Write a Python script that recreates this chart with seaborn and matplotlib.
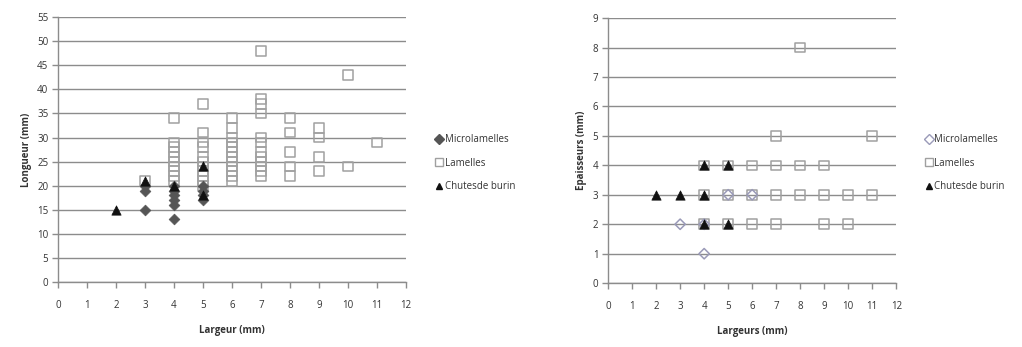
import pandas as pd
import seaborn as sns
import matplotlib.pyplot as plt

# Left chart: longueur vs largeur
micro_lx = [3, 3, 3, 4, 4, 4, 4, 4, 4, 5, 5, 5, 5]
micro_ly = [20, 19, 15, 20, 19, 18, 17, 16, 13, 20, 19, 18, 17]
lam_lx = [3,
          4, 4, 4, 4, 4, 4, 4, 4, 4, 4,
          5, 5, 5, 5, 5, 5, 5, 5, 5, 5, 5,
          6, 6, 6, 6, 6, 6, 6, 6, 6, 6, 6, 6,
          7, 7, 7, 7, 7, 7, 7, 7, 7, 7, 7, 7,
          8, 8, 8, 8, 8,
          9, 9, 9, 9,
          10, 10,
          11]
lam_ly = [21,
          34, 29, 28, 27, 26, 25, 24, 23, 22, 21,
          37, 31, 29, 28, 26, 25, 24, 23, 22, 21, 20,
          34, 32, 30, 29, 28, 27, 26, 25, 24, 23, 22, 21,
          48, 38, 37, 35, 30, 29, 27, 26, 25, 24, 23, 22,
          34, 31, 27, 24, 22,
          32, 30, 26, 23,
          43, 24,
          29]
chute_lx = [2, 3, 4, 5, 5]
chute_ly = [15, 21, 20, 24, 18]

# Right chart: epaisseur vs largeur
micro_rx = [3, 4, 4, 5, 6]
micro_ry = [2, 1, 2, 3, 3]
lam_rx = [4, 4, 4, 5, 5, 5, 6, 6, 6, 7, 7, 7, 7, 8, 8, 8, 9, 9, 9, 10, 10, 11, 11]
lam_ry = [2, 3, 4, 2, 3, 4, 2, 3, 4, 2, 3, 4, 5, 3, 4, 8, 2, 3, 4, 2, 3, 3, 5]
chute_rx = [2, 3, 4, 4, 4, 5, 5]
chute_ry = [3, 3, 2, 3, 4, 2, 4]

series = ["Microlamelles", "Lamelles", "Chutes de burin"]
labels = ["Microlamelles", "Lamelles", "Chutesde burin"]

sns.set_theme(style="white")
plt.rcParams["font.family"] = ["Open Sans", "DejaVu Sans"]

fig = plt.figure(figsize=(10.22, 3.47), dpi=100)
ax1 = fig.add_axes([0.0568, 0.187, 0.3405, 0.764])
ax2 = fig.add_axes([0.595, 0.184, 0.282, 0.764])

grey = "#a6a6a6"
text_c = "#333333"


def draw(ax, xs, ys, micro_style, ymax, ystep, ylabel, xlabel, leg_x):
    # Lamelles: open squares
    sns.scatterplot(x=xs[1], y=ys[1], ax=ax, marker="s", s=48,
                    facecolor="none", edgecolor="#a0a0a0", linewidth=1.1, zorder=3)
    sns.scatterplot(x=xs[0], y=ys[0], ax=ax, zorder=4, **micro_style)
    sns.scatterplot(x=xs[2], y=ys[2], ax=ax, marker="^", s=45,
                    color="#111111", edgecolor="#111111", linewidth=0.5, zorder=5)
    ax.set_xlim(0, 12)
    ax.set_ylim(0, ymax)
    ax.set_xticks(range(0, 13))
    ax.set_yticks(range(0, ymax + 1, ystep))
    ax.yaxis.grid(True, color="#8c8c8c", linewidth=1.0)
    ax.xaxis.grid(False)
    for side in ["top", "right"]:
        ax.spines[side].set_visible(False)
    for side in ["left", "bottom"]:
        ax.spines[side].set_color("#8c8c8c")
        ax.spines[side].set_linewidth(1.0)
    ax.tick_params(axis="both", which="both", length=4, width=1, color="#8c8c8c",
                   labelsize=7, labelcolor=text_c, direction="out")
    ax.tick_params(axis="x", bottom=True, pad=9)
    ax.tick_params(axis="y", left=True, pad=3)
    ax.set_xlabel(xlabel, fontsize=7, fontweight="bold", color=text_c, labelpad=10)
    ax.set_ylabel(ylabel, fontsize=7, fontweight="bold", color=text_c, labelpad=4)

    handles = [
        plt.Line2D([], [], linestyle="none", marker=micro_style["marker"], markersize=5,
                   markerfacecolor=micro_style["facecolor"],
                   markeredgecolor=micro_style["edgecolor"]),
        plt.Line2D([], [], linestyle="none", marker="s", markersize=6,
                   markerfacecolor="none", markeredgecolor="#a0a0a0"),
        plt.Line2D([], [], linestyle="none", marker="^", markersize=5,
                   markerfacecolor="#111111", markeredgecolor="#111111"),
    ]
    leg = fig.legend(handles, labels, loc="center left", bbox_to_anchor=(leg_x, 0.53),
                     frameon=False, fontsize=7, handletextpad=0.1, handlelength=1.0,
                     labelspacing=1.3, borderaxespad=0)
    for t in leg.get_texts():
        t.set_color(text_c)


draw(ax1, [micro_lx, lam_lx, chute_lx], [micro_ly, lam_ly, chute_ly],
     dict(marker="D", s=30, facecolor="#555555", edgecolor="#555555", linewidth=0.5),
     55, 5, "Longueur (mm)", "Largeur (mm)", 0.421)
draw(ax2, [micro_rx, lam_rx, chute_rx], [micro_ry, lam_ry, chute_ry],
     dict(marker="D", s=28, facecolor="none", edgecolor="#9a9ab8", linewidth=1.1),
     9, 1, "Epaisseurs (mm)", "Largeurs (mm)", 0.9)

fig.savefig("out.png", dpi=100)
